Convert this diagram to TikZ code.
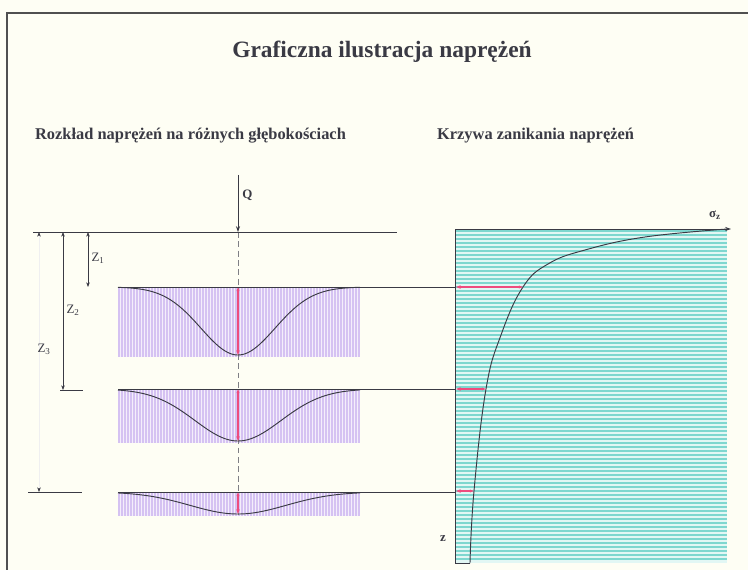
\documentclass[tikz,border=0pt]{standalone}
\usepackage{fontspec}
\setmainfont{Liberation Serif}
\usepackage{tikz}
\usetikzlibrary{arrows.meta,positioning,calc}
\definecolor{paper}{HTML}{FEFEF4}
\definecolor{framegrey}{HTML}{505050}
\definecolor{inkgrey}{HTML}{3A3A44}
\definecolor{lilac}{HTML}{D5C2F2}
\definecolor{lilacbg}{HTML}{F4EEFB}
\definecolor{aqua}{HTML}{7ED7CF}
\definecolor{aquabg}{HTML}{E2F7F4}
\definecolor{stressred}{HTML}{EE4C7E}
\tikzset{
  ttl/.style={font=\bfseries\fontsize{20}{23}\selectfont, text=inkgrey},
  subttl/.style={font=\bfseries\fontsize{14}{16}\selectfont, text=inkgrey},
  lbl/.style={font=\fontsize{11}{12}\selectfont, text=inkgrey, inner sep=1pt},
  blbl/.style={font=\bfseries\fontsize{11}{12}\selectfont, text=inkgrey, inner sep=1pt},
  levelline/.style={draw=inkgrey, line width=0.75pt},
  dim/.style={{Stealth[length=4pt,width=3pt]}-{Stealth[length=4pt,width=3pt]},
              draw=inkgrey, line width=0.45pt},
  load/.style={-{Stealth[length=5pt,width=3.5pt]}, draw=inkgrey, line width=0.6pt},
  redarr/.style={{Stealth[length=4pt,width=3pt]}-{Stealth[length=3.5pt,width=2.5pt]},
                 draw=stressred, line width=1pt},
  bell/.style={draw=inkgrey, line width=0.8pt, smooth},
}

\begin{document}
\begin{tikzpicture}[x=0.03cm, y=-0.03cm]
\useasboundingbox (0,0) rectangle (748,570);
\fill[paper] (0,0) rectangle (748,570);
% frame of the sheet
\draw[framegrey, line width=1.8pt] (7,570) -- (7,13) -- (748,13);

% ---------------- titles -------------------------------------------------
\node[ttl] (title) at (382,52) {Graficzna ilustracja naprężeń};
\node[subttl, anchor=west] (left) at (31,136) {Rozkład naprężeń na różnych głębokościach};
\node[subttl, anchor=west] (right) at (433,136) {Krzywa zanikania naprężeń};

% ---------------- stress bulbs at three depths ---------------------------
\foreach \yo/\dep/\sig in {287/68/37, 389/52/43, 492/22/48}{
  \fill[lilacbg] (118,\yo) rectangle (360,{\yo+\dep+2});
  \foreach \x in {119,122,...,359}
    \draw[lilac, line width=0.9pt] (\x,\yo) -- (\x,{\yo+\dep+2});
}
\draw[inkgrey!65, dashed, dash pattern=on 5pt off 3pt, line width=0.5pt] (238,232) -- (238,515);
\foreach \yo/\dep/\sig in {287/68/37, 389/52/43, 492/22/48}{
  \draw[bell] plot[domain=118:360, samples=90]
     (\x, {\yo+\dep*exp(-0.5*((\x-238)/\sig)^2)});
  \draw[redarr] (238,{\yo+\dep}) -- (238,\yo);
}

% ground, load and depth marks
\coordinate (gl) at (33,232);  \coordinate (gr) at (397,232);
\draw[levelline] (gl) -- (gr);
\coordinate (qtop) at (238,175); \coordinate (qbot) at (238,232);
\draw[load] (qtop) -- (qbot);
\node[blbl, anchor=west] (q) at (241,195) {Q};

\coordinate (l1) at (118,287); \coordinate (r1) at (552,287);
\coordinate (l2) at (118,389); \coordinate (r2) at (552,389);
\coordinate (l3) at (118,492); \coordinate (r3) at (552,492);
\draw[levelline] (l1) -- (r1);
\draw[levelline] (l2) -- (r2);
\draw[levelline] (l3) -- (r3);
\draw[levelline, line width=0.5pt] (60,390) -- (83,390);
\draw[levelline, line width=0.5pt] (28,492) -- (82,492);

\draw[dim] (88,232) -- (88,287);
\node[lbl] (z1) at (98,258) {Z\textsubscript{1}};
\draw[dim] (63,232) -- (63,390);
\node[lbl] (z2) at (73,310) {Z\textsubscript{2}};
\draw[dim, draw=inkgrey!8, {Stealth[length=4pt,width=3pt,inkgrey]}-{Stealth[length=4pt,width=3pt,inkgrey]}]
   (39,232) -- (39,492);
\node[lbl] (z3) at (44,349) {Z\textsubscript{3}};

% ---------------- decay of stress with depth ------------------------------
\fill[aquabg] (455,229) rectangle (727,563);
\foreach \y in {231,235,...,561}
  \draw[aqua, line width=1.7pt] (455,\y) -- (727,\y);
\draw[inkgrey, line width=0.8pt] (470,563) -- (455,563) -- (455,229);
\draw[load, line width=0.8pt] (455,229) -- (731,229);
\node[blbl] (sig) at (715,215) {σ\textsubscript{z}};
\node[blbl] (zz) at (443,539) {z};
\draw[inkgrey, line width=0.8pt] plot[smooth, tension=0.7] coordinates
  {(470,563) (474,491) (486,389) (501,335) (523,287) (548,264)
   (585,250) (645,237) (727,229)};
\draw[redarr] (456,287) -- (523,287);
\draw[redarr] (456,389) -- (486,389);
\draw[redarr] (456,491) -- (474,491);
\end{tikzpicture}
\end{document}
